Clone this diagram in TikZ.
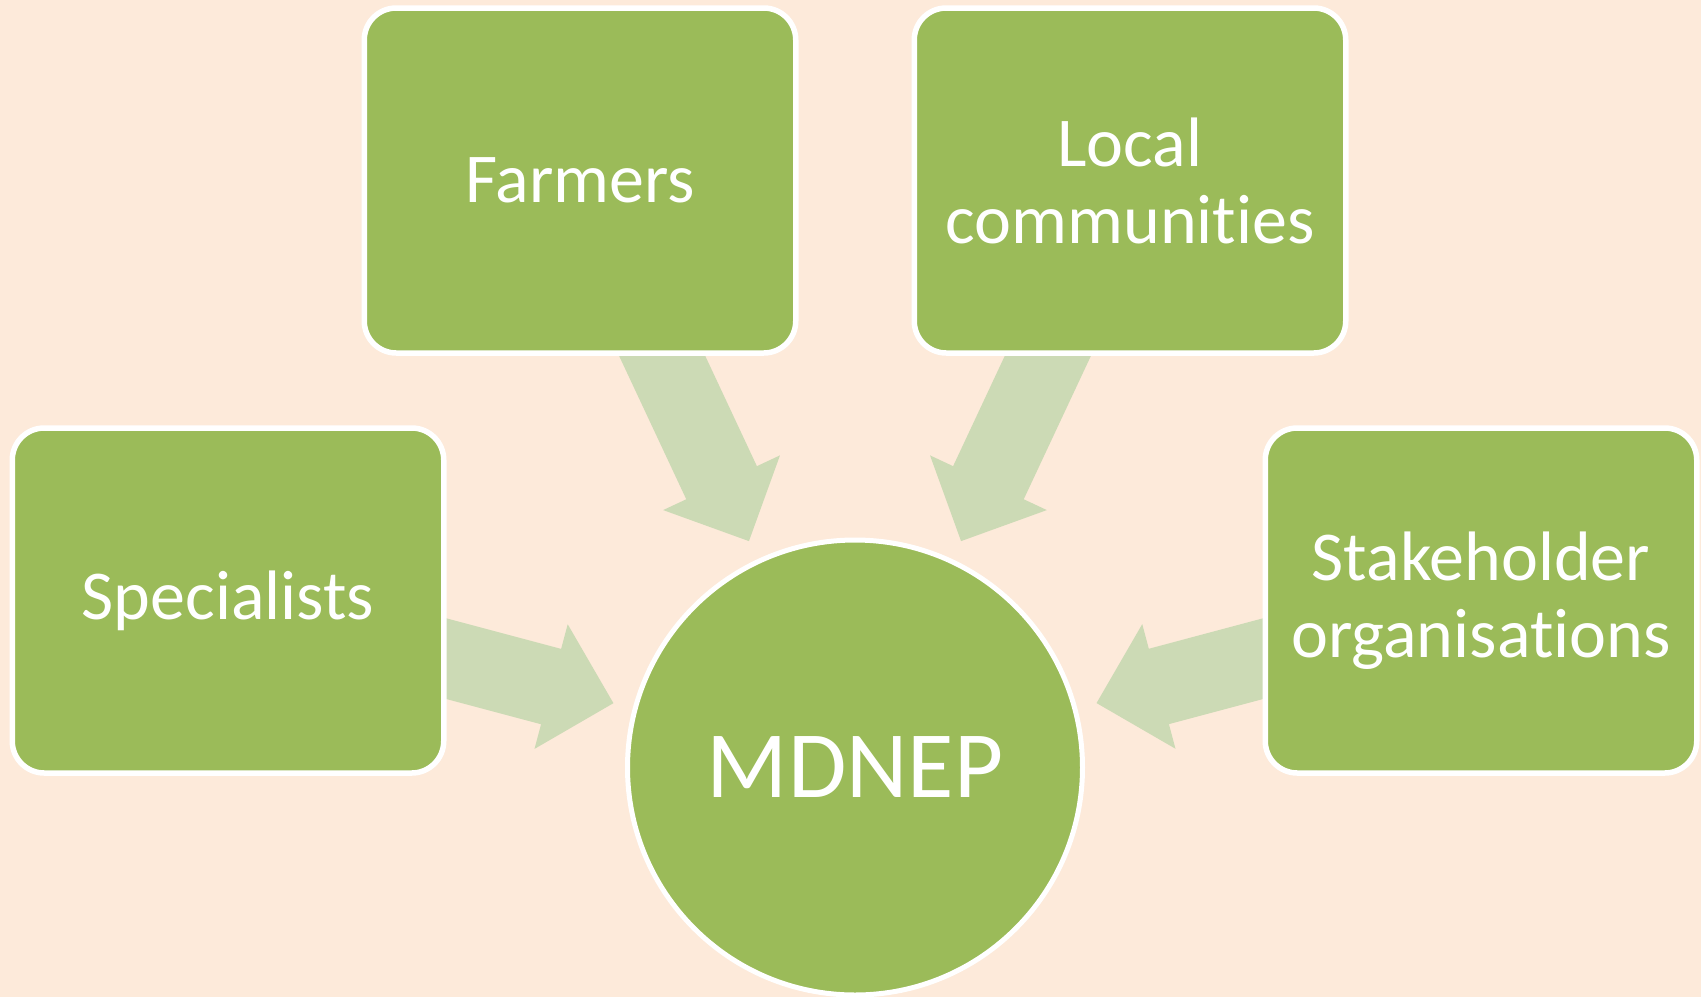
\documentclass[tikz,border=0pt]{standalone}
\usepackage{fontspec}
\setmainfont[Ligatures={NoCommon,NoRare,NoContextual}]{Carlito}
\usetikzlibrary{calc}
\pgfdeclarelayer{bg}
\pgfdeclarelayer{arrowlayer}
\pgfsetlayers{bg,arrowlayer,main}
\definecolor{bgc}{HTML}{FDEADA}
\definecolor{boxgreen}{HTML}{9BBB59}
\definecolor{arrowgreen}{HTML}{CCDAB5}
\tikzset{
  box/.style={draw=white, line width=5.5pt, fill=boxgreen, rounded corners=32pt,
    minimum width=431.5pt, minimum height=345pt, inner sep=0pt, text=white,
    align=center, font=\fontsize{70}{77}\selectfont},
  hub/.style={draw=white, line width=5pt, fill=boxgreen, circle, minimum size=455pt,
    inner sep=0pt, text=white, font=\fontsize{95}{100}\selectfont},
  blockarrow/.style={fill=arrowgreen}
}
\begin{document}
\begin{tikzpicture}[x=1pt,y=-1pt]
\begin{pgfonlayer}{bg}
\fill[bgc] (0,0) rectangle (1701,997);
\end{pgfonlayer}
\useasboundingbox (0,0) rectangle (1701,997);
\node[box] (f) at (580,180.5) {Farmers};
\node[box] (l) at (1130,180.5) {Local\\communities};
\node[box] (s) at (228,600.5) {Specialists};
\node[box] (k) at (1481,600.5) {Stakeholder\\organisations};
\node[hub] (m) at (855,767.5) {MDNEP};
\begin{pgfonlayer}{arrowlayer}
\foreach \src in {f,l,s,k}{
  \coordinate (tip) at ($(m)!250pt!(\src)$);
  \coordinate (hb) at ($(m)!314.5pt!(\src)$);
  \fill[blockarrow] ($(\src)!39pt!90:(m)$) -- ($(hb)!39pt!90:(m)$) -- ($(hb)!64.5pt!90:(m)$)
    -- (tip) -- ($(hb)!64.5pt!-90:(m)$) -- ($(hb)!39pt!-90:(m)$) -- ($(\src)!39pt!-90:(m)$) -- cycle;
}
\end{pgfonlayer}
\end{tikzpicture}
\end{document}
